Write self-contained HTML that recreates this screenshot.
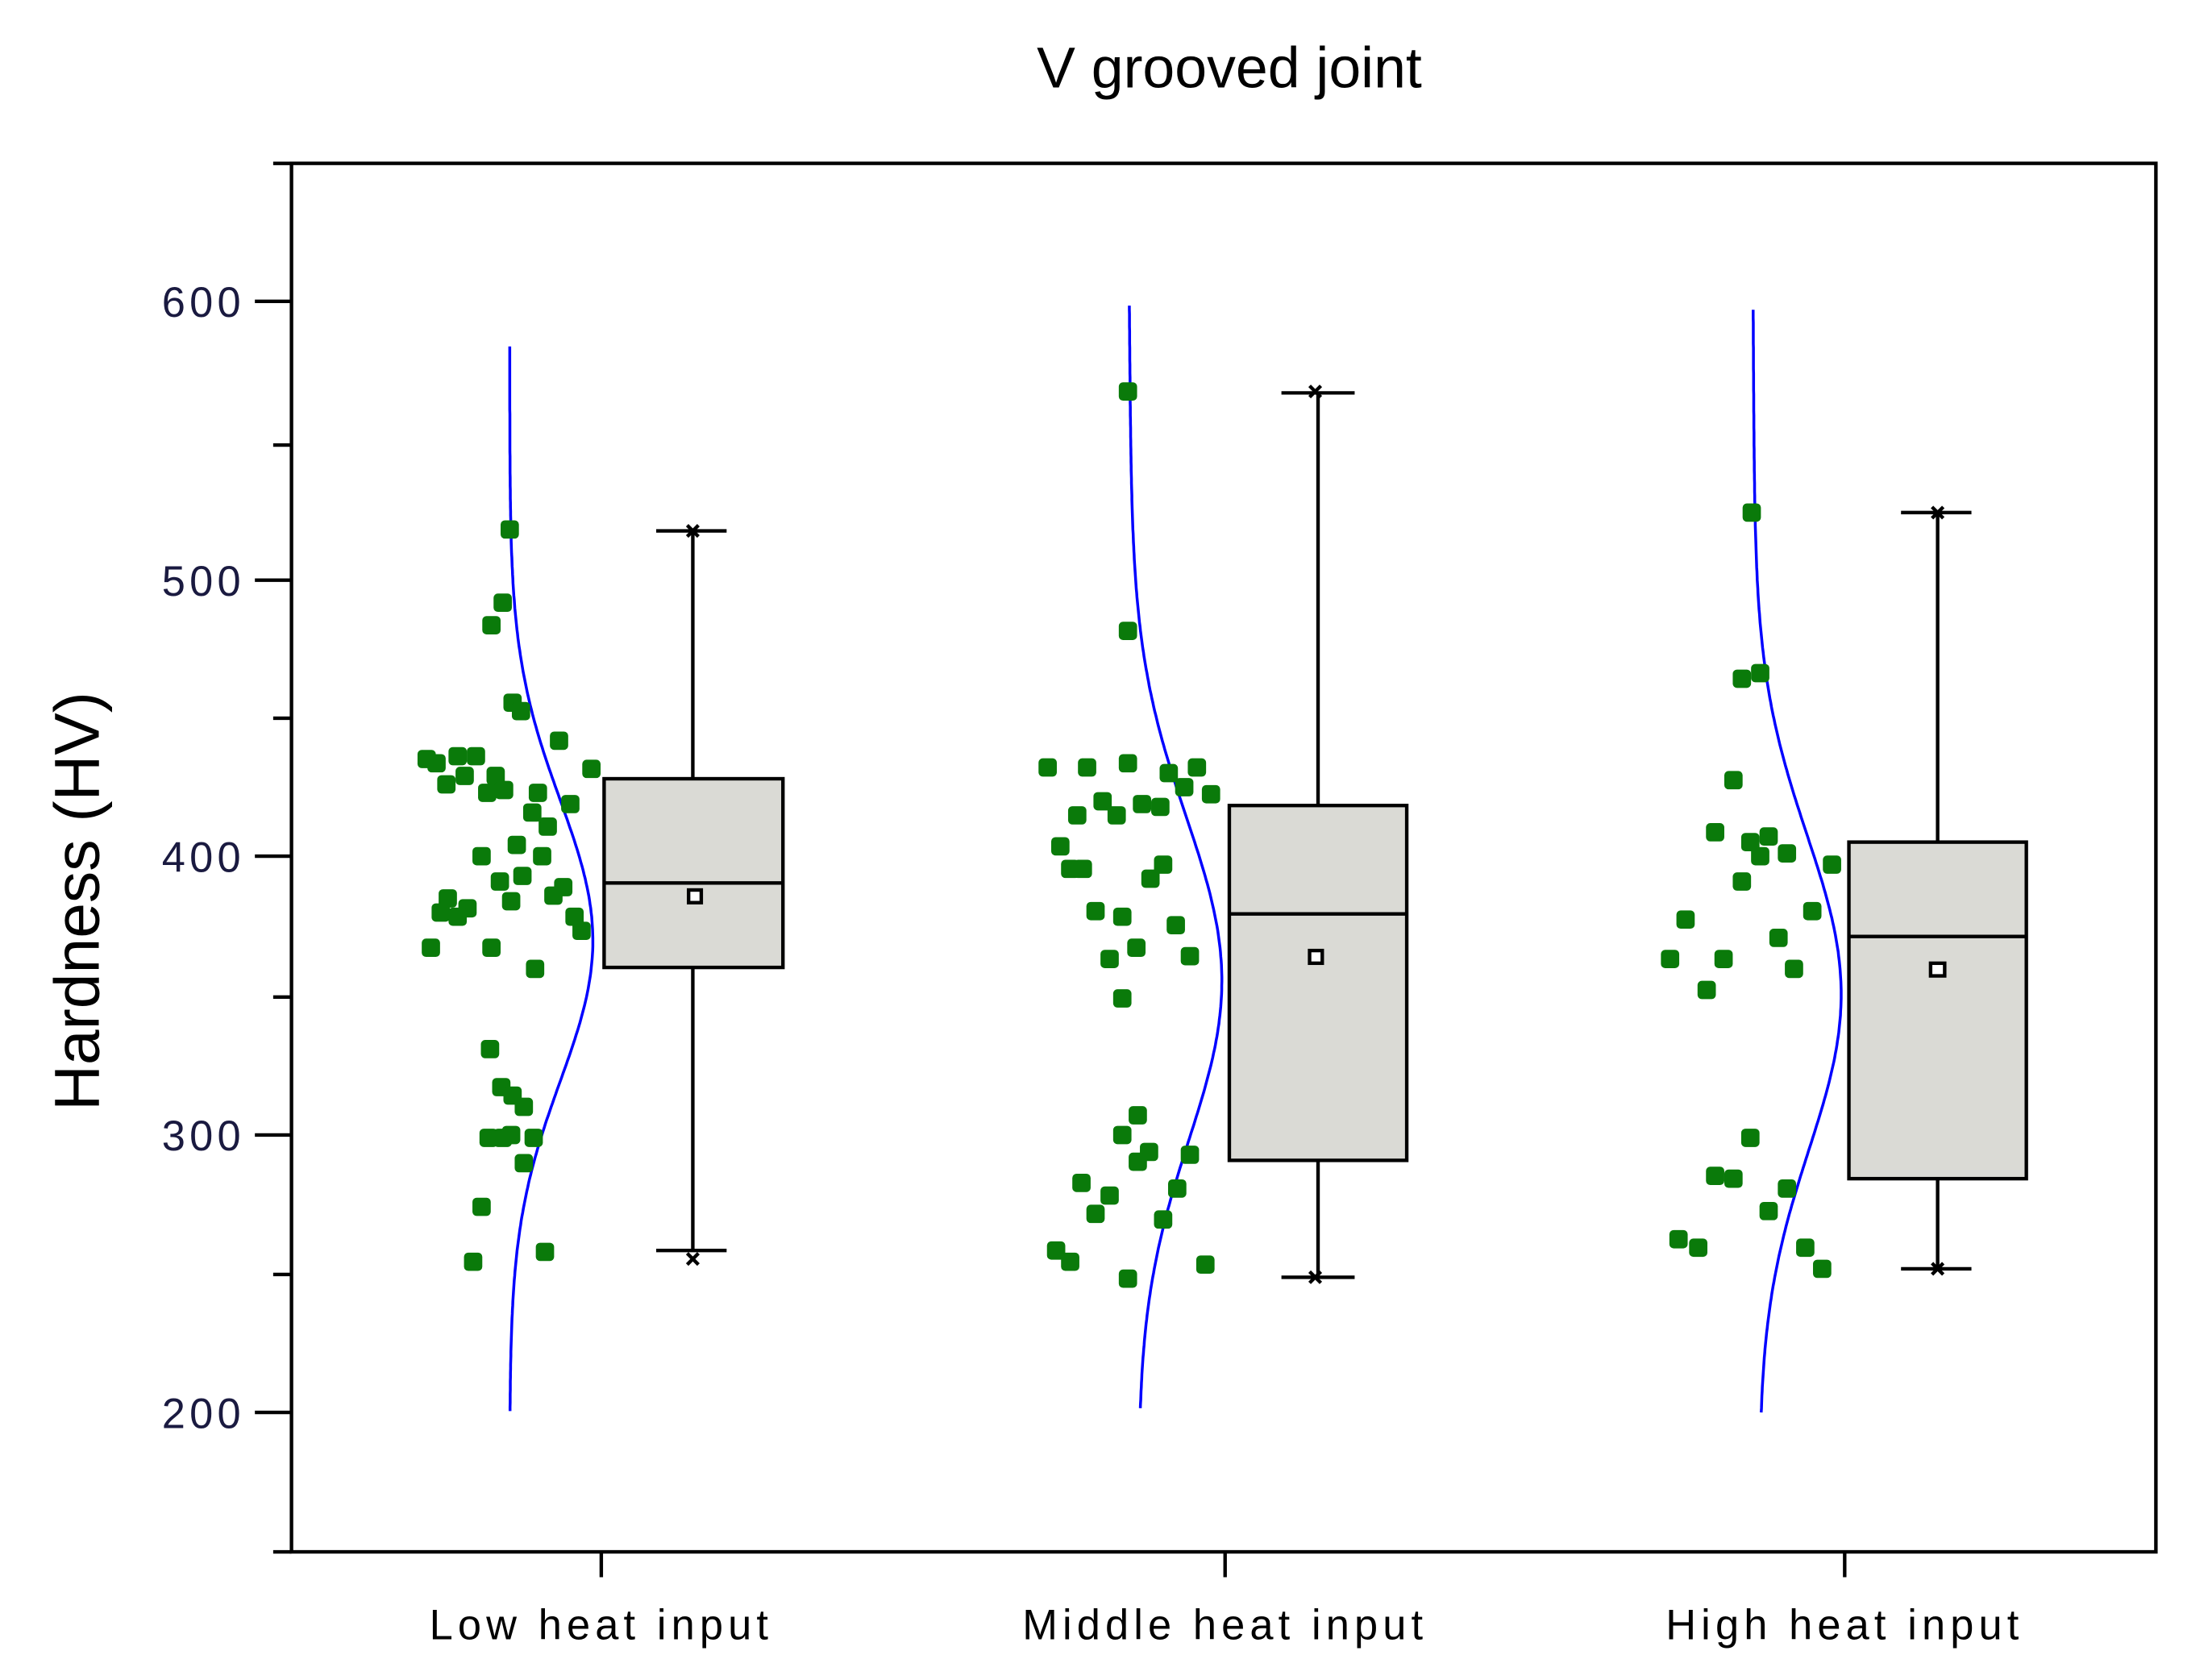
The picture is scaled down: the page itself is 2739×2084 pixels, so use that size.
<!DOCTYPE html>
<html><head><meta charset="utf-8"><style>
html,body{margin:0;padding:0;background:#fff;}
svg{display:block;}
text{font-family:"Liberation Sans",sans-serif;}
</style></head><body>
<svg width="2739" height="2084" viewBox="0 0 1568 1193" preserveAspectRatio="none" xmlns="http://www.w3.org/2000/svg">
<rect x="0" y="0" width="1568" height="1193" fill="#fff"/>
<text x="873" y="62" font-size="41" text-anchor="middle" fill="#000">V grooved joint</text>
<rect x="207" y="116" width="1324" height="986" fill="none" stroke="#000" stroke-width="2.5"/>
<g stroke="#000" stroke-width="2.5">
<line x1="181" y1="214" x2="207" y2="214"/><line x1="181" y1="412" x2="207" y2="412"/><line x1="181" y1="608" x2="207" y2="608"/><line x1="181" y1="806" x2="207" y2="806"/><line x1="181" y1="1003" x2="207" y2="1003"/>
<line x1="194" y1="116" x2="207" y2="116"/><line x1="194" y1="316" x2="207" y2="316"/><line x1="194" y1="510" x2="207" y2="510"/><line x1="194" y1="708" x2="207" y2="708"/><line x1="194" y1="905" x2="207" y2="905"/><line x1="194" y1="1102" x2="207" y2="1102"/>
<line x1="427" y1="1102" x2="427" y2="1120"/><line x1="870" y1="1102" x2="870" y2="1120"/><line x1="1310" y1="1102" x2="1310" y2="1120"/>
</g>
<g font-size="30" fill="#1a1a40" text-anchor="end" letter-spacing="3">
<text x="174" y="225">600</text><text x="174" y="423">500</text><text x="174" y="619">400</text><text x="174" y="817">300</text><text x="174" y="1014">200</text>
</g>
<text transform="translate(70,640) rotate(-90)" font-size="45" text-anchor="middle" fill="#000">Hardness (HV)</text>
<g font-size="30" fill="#000" text-anchor="middle" letter-spacing="3.5">
<text x="427" y="1164">Low heat input</text><text x="870" y="1164">Middle heat input</text><text x="1310" y="1164">High heat input</text>
</g>
<g fill="#dadad5" stroke="#000" stroke-width="2.5">
<rect x="429" y="553" width="127" height="134"/>
<rect x="873" y="572" width="126" height="252"/>
<rect x="1313" y="598" width="126" height="239"/>
</g>
<g stroke="#000" stroke-width="2.5" fill="none">
<line x1="429" y1="627" x2="556" y2="627"/><line x1="492" y1="553" x2="492" y2="377"/><line x1="492" y1="687" x2="492" y2="888"/><line x1="466" y1="377" x2="516" y2="377"/><line x1="466" y1="888" x2="516" y2="888"/>
<line x1="873" y1="649" x2="999" y2="649"/><line x1="936" y1="572" x2="936" y2="279"/><line x1="936" y1="824" x2="936" y2="907"/><line x1="910" y1="279" x2="962" y2="279"/><line x1="910" y1="907" x2="962" y2="907"/>
<line x1="1313" y1="665" x2="1439" y2="665"/><line x1="1376" y1="598" x2="1376" y2="364"/><line x1="1376" y1="837" x2="1376" y2="901"/><line x1="1350" y1="364" x2="1400" y2="364"/><line x1="1350" y1="901" x2="1400" y2="901"/>
<rect x="489" y="632" width="9" height="9" fill="#fff"/><rect x="930" y="675" width="9" height="9" fill="#fff"/><rect x="1371" y="684" width="10" height="9" fill="#fff"/>
<path d="M488 373l8 8M496 373l-8 8M488 890l8 8M496 890l-8 8M930 274l8 8M938 274l-8 8M930 903l8 8M938 903l-8 8M1372 360l8 8M1380 360l-8 8M1372 897l8 8M1380 897l-8 8"/>
</g>
<g id="curves" stroke="#0000ff" stroke-width="2" fill="none"></g>
<g id="dots" fill="#0a7a0a"></g>
<script>
(function(){
var ns="http://www.w3.org/2000/svg";
function curve(y0,y1,b0,b1,amp,c,s){var d="";for(var y=y0;y<=y1;y+=3){var b=b0+(b1-b0)*(y-y0)/(y1-y0);var x=b+amp*Math.exp(-Math.pow((y-c)/s,2)/2);d+=(d?"L":"M")+x.toFixed(1)+" "+y;}var p=document.createElementNS(ns,"path");p.setAttribute("d",d);document.getElementById("curves").appendChild(p);}
curve(246,1003,362,362,59,668,100);
curve(217,1000,802,808,62,695,115);
curve(220,1003,1245,1249,60,705,112);
var pts=[[362,376],[357,428],[349,444],[364,499],[370,505],[397,526],[420,546],[303,539],[310,542],[325,537],[338,537],[317,557],[330,551],[352,551],[346,563],[358,561],[382,563],[405,571],[378,577],[389,587],[367,600],[342,608],[385,608],[371,622],[355,626],[400,630],[393,636],[363,640],[318,638],[332,645],[313,648],[325,651],[408,651],[413,661],[306,673],[349,673],[380,688],[348,745],[356,772],[364,778],[372,786],[347,808],[357,808],[363,806],[379,808],[372,826],[342,857],[336,896],[387,889],
[801,278],[801,448],[744,545],[772,545],[801,542],[830,549],[850,545],[841,559],[860,564],[783,569],[811,571],[824,573],[765,579],[793,579],[753,601],[760,617],[769,617],[826,614],[817,624],[778,647],[797,651],[835,657],[807,673],[845,679],[788,681],[797,709],[808,792],[797,806],[816,818],[808,825],[845,820],[768,840],[788,849],[836,844],[778,862],[826,866],[750,888],[760,896],[801,908],[856,898],
[1244,364],[1237,482],[1250,478],[1231,554],[1218,591],[1243,598],[1256,594],[1250,608],[1269,606],[1237,626],[1301,614],[1287,647],[1197,653],[1263,666],[1186,681],[1224,681],[1212,703],[1274,688],[1243,808],[1218,835],[1231,837],[1269,844],[1256,860],[1192,880],[1206,886],[1282,886],[1294,901]];
var g=document.getElementById("dots");
pts.forEach(function(p){var r=document.createElementNS(ns,"rect");r.setAttribute("x",p[0]-6.5);r.setAttribute("y",p[1]-6.5);r.setAttribute("width",13);r.setAttribute("height",13);r.setAttribute("rx",3);g.appendChild(r);});
})();
</script>
</svg>
</body></html>
